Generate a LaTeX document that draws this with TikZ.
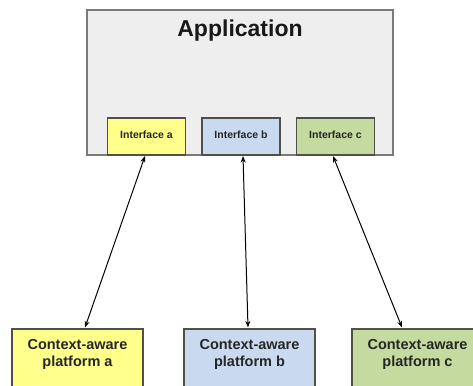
\documentclass[tikz,border=0pt]{standalone}
\usepackage{fontspec}
\setmainfont{Liberation Sans}
\usetikzlibrary{arrows.meta}
\definecolor{appfill}{HTML}{EEEEEE}
\definecolor{appline}{HTML}{7A7A7A}
\definecolor{yelfill}{HTML}{FFFF8C}
\definecolor{bluefill}{HTML}{C9DAF0}
\definecolor{greenfill}{HTML}{C4DA9E}
\definecolor{boxline}{HTML}{505048}
\tikzset{
  appbox/.style={draw=appline, fill=appfill, line width=1.3pt, minimum width=306pt, minimum height=145pt, inner sep=0pt},
  ifbox/.style={draw=boxline, line width=1.1pt, minimum width=78pt, minimum height=37pt, inner sep=0pt,
    font=\fontsize{10.5}{12}\selectfont\bfseries, text=black!85},
  platbox/.style={draw=boxline, line width=1.1pt, minimum width=131pt, minimum height=72pt, inner sep=0pt},
  plattext/.style={font=\fontsize{14.5}{17.5}\selectfont\bfseries, align=center, text=black!85},
  link/.style={line width=1pt, {Stealth[length=6.5pt,width=5pt]}-{Stealth[length=6.5pt,width=5pt]}}
}
\begin{document}
\begin{tikzpicture}[x=1pt,y=-1pt]
  \clip (0,0) rectangle (473,385);
  \fill[white] (0,0) rectangle (473,385);
  % application with its three interfaces
  \node[appbox] (app) at (240,82.5) {};
  \node[font=\fontsize{23}{27}\selectfont\bfseries, text=black!90] (title) at (240,30.5) {Application};
  \node[ifbox, fill=yelfill] (ia) at (146.5,136.5) {\raisebox{3pt}{Interface a}};
  \node[ifbox, fill=bluefill] (ib) at (241,136.5) {\raisebox{3pt}{Interface b}};
  \node[ifbox, fill=greenfill] (ic) at (335.5,136.5) {\raisebox{3pt}{Interface c}};
  % platforms
  \node[platbox, fill=yelfill] (pa) at (77.5,365) {};
  \node[platbox, fill=bluefill] (pb) at (249.5,365) {};
  \node[platbox, fill=greenfill] (pc) at (417.5,365) {};
  \node[plattext] (ta) at (77.5,354.5) {Context-aware\\platform a};
  \node[plattext] (tb) at (249.5,354.5) {Context-aware\\platform b};
  \node[plattext] (tc) at (417.5,354.5) {Context-aware\\platform c};
  % links
  \draw[link] ([xshift=-1.5pt,yshift=-0.5pt]ia.south) -- ([xshift=7.5pt,yshift=1pt]pa.north);
  \draw[link] ([xshift=2pt,yshift=-0.5pt]ib.south) -- ([xshift=-1.5pt,yshift=1pt]pb.north);
  \draw[link] ([xshift=-2.5pt,yshift=-0.5pt]ic.south) -- ([xshift=-15.5pt,yshift=1pt]pc.north);
\end{tikzpicture}
\end{document}
